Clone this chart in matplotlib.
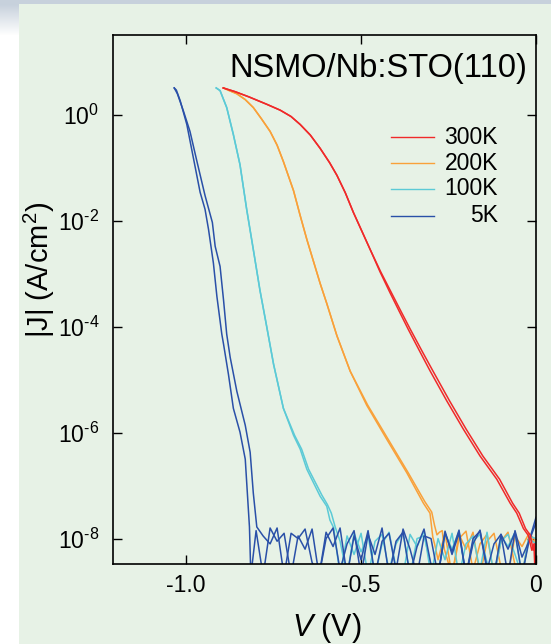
import numpy as np
import matplotlib
matplotlib.use("Agg")
import matplotlib.pyplot as plt
from matplotlib.patches import Rectangle

plt.rcParams['font.family'] = ['Liberation Sans', 'DejaVu Sans']
plt.rcParams['mathtext.fontset'] = 'custom'
plt.rcParams['mathtext.rm'] = 'Liberation Sans'
plt.rcParams['mathtext.it'] = 'Liberation Sans:italic'
plt.rcParams['axes.unicode_minus'] = False

# --- data: log10 |J| (two sweeps per temperature) ---
# smooth parts
v_5k_a = [-1.034, -1.028, -1.017, -0.998, -0.979, -0.960, -0.946, -0.936, -0.922, -0.912,
          -0.898, -0.893, -0.879, -0.865, -0.846, -0.831, -0.825, -0.819, -0.815]
j_5k_a = [0.51, 0.47, 0.27, -0.18, -0.82, -1.46, -1.78, -2.16, -2.80, -3.43,
          -4.14, -4.33, -4.90, -5.54, -5.99, -6.50, -7.14, -7.78, -8.70]
v_5k_b = [-1.034, -1.025, -1.008, -0.989, -0.969, -0.946, -0.925, -0.917, -0.903, -0.893,
          -0.884, -0.874, -0.855, -0.831, -0.817, -0.808, -0.798]
j_5k_b = [0.51, 0.40, 0.08, -0.31, -0.88, -1.52, -2.03, -2.48, -2.86, -3.50,
          -4.14, -4.58, -5.22, -5.86, -6.37, -7.14, -7.78]

v_100k_a = [-0.914, -0.903, -0.884, -0.865, -0.846, -0.827, -0.808, -0.789, -0.771, -0.750,
            -0.722, -0.693, -0.674, -0.655, -0.617, -0.598, -0.589, -0.578]
j_100k_a = [0.51, 0.46, 0.14, -0.37, -0.94, -1.78, -2.54, -3.31, -3.95, -4.71,
            -5.54, -6.05, -6.31, -6.69, -7.20, -7.39, -7.65, -7.80]
v_100k_b = [-0.914, -0.903, -0.884, -0.865, -0.846, -0.827, -0.808, -0.789, -0.771, -0.750,
            -0.722, -0.690, -0.670, -0.650, -0.612, -0.596, -0.585, -0.574]
j_100k_b = [0.51, 0.46, 0.14, -0.37, -0.94, -1.78, -2.54, -3.31, -3.95, -4.71,
            -5.54, -6.05, -6.31, -6.69, -7.18, -7.36, -7.52, -7.78]

v_200k_a = [-0.893, -0.880, -0.855, -0.831, -0.808, -0.785, -0.760, -0.740, -0.722, -0.693,
            -0.674, -0.655, -0.617, -0.598, -0.569, -0.531, -0.484, -0.427, -0.369, -0.322,
            -0.303, -0.295, -0.290]
j_200k_a = [0.51, 0.47, 0.40, 0.29, 0.14, -0.07, -0.31, -0.57, -0.88, -1.43,
            -1.90, -2.35, -3.18, -3.56, -4.17, -4.84, -5.48, -6.12, -6.76, -7.33,
            -7.52, -7.97, -8.10]
v_200k_b = [-0.893, -0.880, -0.855, -0.831, -0.808, -0.785, -0.760, -0.740, -0.722, -0.693,
            -0.674, -0.655, -0.617, -0.598, -0.569, -0.531, -0.481, -0.423, -0.365, -0.318,
            -0.298, -0.290, -0.283, -0.276, -0.268, -0.262]
j_200k_b = [0.51, 0.47, 0.40, 0.29, 0.14, -0.07, -0.31, -0.57, -0.88, -1.43,
            -1.90, -2.35, -3.18, -3.56, -4.17, -4.84, -5.48, -6.12, -6.76, -7.30,
            -7.50, -7.75, -7.93, -7.88, -7.85, -8.20]

v_300k_a = [-0.894, -0.860, -0.820, -0.769, -0.731, -0.700, -0.674, -0.645, -0.617, -0.590,
            -0.569, -0.545, -0.522, -0.498, -0.474, -0.446, -0.417, -0.390, -0.365, -0.331,
            -0.303, -0.255, -0.208, -0.160, -0.112, -0.074, -0.055, -0.036, -0.022, -0.012,
            -0.006, -0.003]
j_300k_a = [0.51, 0.44, 0.34, 0.20, 0.09, -0.03, -0.18, -0.38, -0.63, -0.90,
            -1.14, -1.47, -1.84, -2.19, -2.54, -2.96, -3.36, -3.72, -4.05, -4.48,
            -4.83, -5.40, -5.93, -6.44, -6.88, -7.33, -7.52, -7.81, -7.94, -8.22,
            -8.10, -8.60]
v_300k_b = [-0.894, -0.860, -0.820, -0.769, -0.731, -0.700, -0.674, -0.645, -0.617, -0.590,
            -0.569, -0.545, -0.522, -0.498, -0.474, -0.444, -0.413, -0.385, -0.359, -0.324,
            -0.295, -0.247, -0.200, -0.152, -0.104, -0.067, -0.048, -0.030, -0.016, -0.008,
            -0.004, -0.001]
j_300k_b = j_300k_a

# noise floor (20 mV steps up to 0 V)
noise_5k_a = [-7.85, -8.70, -7.80, -8.05, -7.90, -8.70, -7.95, -8.20, -7.82, -8.70,
              -8.00, -7.80, -8.60, -8.10, -7.85, -8.70, -7.92, -8.30, -7.80, -8.70,
              -8.05, -7.88, -8.70, -8.15, -7.82, -8.50, -8.70, -7.90, -8.25, -7.84,
              -8.70, -8.00, -7.86, -8.60, -8.10, -7.92, -8.70, -7.85, -8.35, -8.05,
              -7.60]
noise_5k_b = [-7.95, -8.10, -7.80, -8.70, -7.90, -8.00, -7.82, -8.45, -8.70, -7.88,
              -8.15, -7.80, -8.70, -7.95, -8.40, -7.85, -8.70, -8.05, -7.90, -8.60,
              -7.82, -8.20, -8.70, -7.95, -8.00, -8.70, -7.86, -8.30, -7.90, -8.70,
              -8.10, -7.84, -8.55, -8.70, -7.92, -8.20, -7.88, -8.70, -8.05, -7.70]
noise_100k_a = [-8.70, -7.95, -8.30, -7.90, -8.70, -8.05, -7.92, -8.60, -8.10, -7.88,
                -8.70, -8.00, -7.95, -8.50, -8.70, -7.90, -8.20, -7.86, -8.70, -8.05,
                -7.92, -8.45, -8.70, -7.95, -8.15, -7.88, -8.70, -8.00, -8.10]
noise_100k_b = [-8.05, -8.70, -7.90, -8.25, -7.95, -8.70, -8.10, -7.88, -8.55, -8.70,
                -7.92, -8.15, -7.86, -8.70, -8.00, -8.40, -7.90, -8.70, -8.10, -7.95,
                -8.60, -7.88, -8.70, -8.05, -7.92, -8.30, -8.70, -7.95, -8.00]
noise_200k_a = [-8.40, -7.90, -8.70, -8.00, -7.86, -8.60, -8.10, -7.92, -8.70, -8.05,
                -7.88, -8.50, -8.70, -7.95, -8.10]
noise_200k_b = [-8.70, -7.92, -8.20, -7.88, -8.70, -8.05, -7.90, -8.55, -8.70, -7.95,
                -8.15, -7.90, -8.05]

labels = ['300K', '200K', '100K', '5K']
colors = ['#f02a2a', '#f9a13a', '#5ccad6', '#2a50a8']

y_ticks = [1e0, 1e-2, 1e-4, 1e-6, 1e-8]
y_ticklabels = ['$10^{0}$', '$10^{\\text{-}2}$', '$10^{\\text{-}4}$',
                '$10^{\\text{-}6}$', '$10^{\\text{-}8}$']
x_ticks = [-1.0, -0.5, 0.0]
x_ticklabels = ['-1.0', '-0.5', '0']


def grid_to_zero(n):
    # voltage grid of the noise part, 20 mV steps ending at 0 V
    return [round(-0.02 * k, 2) for k in range(n - 1, -1, -1)]


def branch(v, j, noise):
    vv = list(v) + grid_to_zero(len(noise))
    jj = list(j) + list(noise)
    return np.array(vv), np.power(10.0, np.array(jj))


curves = {
    '5K': [branch(v_5k_a, j_5k_a, noise_5k_a), branch(v_5k_b, j_5k_b, noise_5k_b)],
    '100K': [branch(v_100k_a, j_100k_a, noise_100k_a), branch(v_100k_b, j_100k_b, noise_100k_b)],
    '200K': [branch(v_200k_a, j_200k_a, noise_200k_a), branch(v_200k_b, j_200k_b, noise_200k_b)],
    '300K': [branch(v_300k_a, j_300k_a, []), branch(v_300k_b, j_300k_b, [])],
}

fig = plt.figure(figsize=(5.51, 6.44), dpi=100)
fig.patch.set_facecolor('white')

# background panel
fig.patches.append(Rectangle((19 / 551, 0), 1, 1 - 4 / 644, transform=fig.transFigure,
                             facecolor='#e7f2e6', edgecolor='none', zorder=-10))
fig.patches.append(Rectangle((0, 1 - 4 / 644), 1, 4 / 644, transform=fig.transFigure,
                             facecolor='#c7d1dc', edgecolor='none', zorder=-10))
gax = fig.add_axes([0, 1 - 36 / 644, 19 / 551, 32 / 644], zorder=-5)
grad = np.linspace(0, 1, 32)[:, None]
gax.imshow(grad, aspect='auto', cmap=matplotlib.colors.LinearSegmentedColormap.from_list(
    'g', ['#c7d1dc', '#ffffff']), extent=[0, 1, 0, 1], origin='upper')
gax.axis('off')

ax = fig.add_axes([113 / 551, 1 - 564 / 644, 423 / 551, 529 / 644])
ax.set_facecolor('none')

zorders = {'300K': 2.3, '200K': 2.0, '100K': 2.1, '5K': 2.2}
for lab, col in zip(labels, colors):
    for v, j in curves[lab]:
        ax.plot(v, j, color=col, lw=1.1, zorder=zorders[lab])

ax.set_yscale('log')
ax.set_xlim(-1.209, 0.0)
ax.set_ylim(10 ** -8.48, 10 ** 1.51)
ax.set_xticks(x_ticks)
ax.set_xticklabels(x_ticklabels)
ax.set_yticks(y_ticks)
ax.set_yticklabels(y_ticklabels)
ax.minorticks_off()
ax.tick_params(direction='in', length=6.5, width=1.0, top=True, right=True,
               labelsize=16.5, colors='black')
ax.tick_params(axis='x', pad=7)
ax.tick_params(axis='y', pad=10, labelsize=16.5)
for s in ax.spines.values():
    s.set_linewidth(1.2)

ax.set_xlabel('$\\mathit{V}$ (V)', fontsize=22)
ax.xaxis.set_label_coords(0.506, -0.088)
ax.set_ylabel('|J| (A/cm$^{2}$)', fontsize=21)
ax.yaxis.set_label_coords(-0.132, 0.556)

ax.text(0.979, 0.936, 'NSMO/Nb:STO(110)', transform=ax.transAxes, ha='right',
        va='center', fontsize=23.5)

# legend drawn by hand (right-aligned labels)
leg_y = [0.807, 0.758, 0.709, 0.658]
for lab, col, yy in zip(labels, colors, leg_y):
    ax.plot([0.657, 0.759], [yy, yy], color=col, lw=1.0, transform=ax.transAxes)
    ax.text(0.910, yy, lab, transform=ax.transAxes, ha='right', va='center', fontsize=16.5)

fig.savefig('out.png', dpi=100, facecolor=fig.get_facecolor())
